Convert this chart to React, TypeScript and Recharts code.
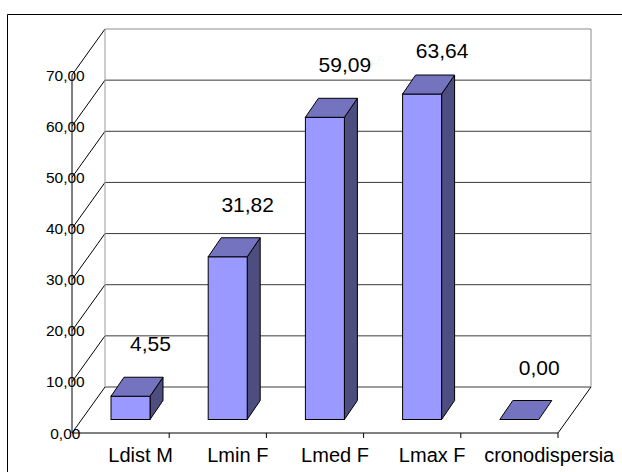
import { BarChart, Bar, XAxis, YAxis, CartesianGrid, LabelList } from "recharts"

const categories = ["Ldist M", "Lmin F", "Lmed F", "Lmax F", "cronodispersia"]
const values = [4.55, 31.82, 59.09, 63.64, 0.0]
const yTicks = [0, 10, 20, 30, 40, 50, 60, 70]

const data = categories.map((name, i) => ({ name, value: values[i] }))

// plot area = the plane the bar fronts stand on
const W = 622
const H = 472
const PLOT_LEFT = 82
const PLOT_RIGHT = 568
const PLOT_TOP = 61.5
const PLOT_BOTTOM = 419.5
const BAND = (PLOT_RIGHT - PLOT_LEFT) / categories.length

// oblique projection offsets of the other planes relative to the bar plane
const BACK = { dx: 23, dy: -32.5 }
const FRONT = { dx: -10, dy: 13.5 }
// depth of a single box
const BOX = { dx: 13, dy: 19 }

const FONT = '"Liberation Sans", Arial, sans-serif'
const LABEL_MIN_Y = 58

const fmt = (v: number) => v.toFixed(2).replace(".", ",")

function GridLine(props: any) {
  const { y1, index } = props
  const yb = y1 + BACK.dy
  const xl = PLOT_LEFT + BACK.dx
  const xr = PLOT_RIGHT + BACK.dx
  const isTop = Math.abs(y1 - PLOT_TOP) < 0.5
  return (
    <g key={`grid-${index}`}>
      <line x1={xl} y1={yb} x2={xr} y2={yb} stroke={isTop ? "#8c8c8c" : "#3a3a3a"} strokeWidth={1} />
      <line
        x1={xl}
        y1={yb}
        x2={PLOT_LEFT + FRONT.dx}
        y2={y1 + FRONT.dy}
        stroke="#000"
        strokeWidth={1}
      />
    </g>
  )
}

function Box(props: any) {
  const { x, y, width, height } = props
  const { dx, dy } = BOX
  const top = `${x},${y} ${x + dx},${y - dy} ${x + width + dx},${y - dy} ${x + width},${y}`
  const side = `${x + width},${y} ${x + width + dx},${y - dy} ${x + width + dx},${y + height - dy} ${x + width},${y + height}`
  return (
    <g>
      {height > 0.5 && <polygon points={side} fill="#4d4d80" stroke="#000" strokeWidth={1} />}
      {height > 0.5 && <rect x={x} y={y} width={width} height={height} fill="#9999ff" stroke="#000" strokeWidth={1} />}
      <polygon points={top} fill="#7373c0" stroke="#000" strokeWidth={1} />
    </g>
  )
}

function ValueLabel(props: any) {
  const { x, y, width, value } = props
  const ly = Math.max(y - 45, LABEL_MIN_Y)
  return (
    <text x={x + width / 2 + 20} y={ly} textAnchor="middle" fontFamily={FONT} fontSize={21} fill="#000">
      {fmt(Number(value))}
    </text>
  )
}

function YTick(props: any) {
  const { y, payload } = props
  return (
    <text
      x={PLOT_LEFT + FRONT.dx - 6.7}
      y={y + FRONT.dy + 5.5}
      textAnchor="middle"
      fontFamily={FONT}
      fontSize={15.5}
      fill="#000"
    >
      {fmt(payload.value)}
    </text>
  )
}

const estWidth = (s: string) => s.length * 10

function XTick(props: any) {
  const { x, index, payload } = props
  const axisY = PLOT_BOTTOM + FRONT.dy
  const boundary = x + FRONT.dx + BAND / 2
  let cx = x + 10
  if (index > 0) {
    // keep long names clear of the previous label
    const prevEnd = cx - BAND + estWidth(categories[index - 1]) / 2
    cx = Math.max(cx, prevEnd + 17 + estWidth(payload.value) / 2)
  }
  return (
    <g>
      <line x1={boundary} y1={axisY} x2={boundary} y2={axisY + 5} stroke="#000" strokeWidth={1} />
      <text x={cx} y={462} textAnchor="middle" fontFamily={FONT} fontSize={20} fill="#000">
        {payload.value}
      </text>
    </g>
  )
}

function Frame() {
  const bl = PLOT_LEFT + BACK.dx
  const br = PLOT_RIGHT + BACK.dx
  const bt = PLOT_TOP + BACK.dy
  const bb = PLOT_BOTTOM + BACK.dy
  const fl = PLOT_LEFT + FRONT.dx
  const fr = PLOT_RIGHT + FRONT.dx
  const fb = PLOT_BOTTOM + FRONT.dy
  const ft = PLOT_TOP + FRONT.dy
  return (
    <g>
      <path d={`M7.5 ${H} V14.5 H${W}`} fill="none" stroke="#000" strokeWidth={1} />
      <line x1={bl} y1={bt} x2={bl} y2={bb} stroke="#9a9a9a" strokeWidth={1} />
      <line x1={br} y1={bt} x2={br} y2={bb} stroke="#8c8c8c" strokeWidth={1} />
      <line x1={br} y1={bb} x2={fr} y2={fb} stroke="#000" strokeWidth={1} />
      <line x1={fl} y1={fb} x2={fr} y2={fb} stroke="#000" strokeWidth={1} />
      <line x1={fl} y1={fb} x2={fl} y2={ft} stroke="#000" strokeWidth={1} />
    </g>
  )
}

export default function App() {
  return (
    <div style={{ position: "absolute", left: 0, top: 0, width: W, height: H, background: "#fff" }}>
      <BarChart
        width={W}
        height={H}
        data={data}
        margin={{ top: PLOT_TOP, right: W - PLOT_RIGHT, bottom: H - PLOT_BOTTOM - 30, left: PLOT_LEFT - 20 }}
      >
        <Frame />
        <CartesianGrid vertical={false} horizontal={(p: any) => <GridLine {...p} />} />
        <XAxis dataKey="name" height={30} axisLine={false} tickLine={false} interval={0} tick={(p: any) => <XTick {...p} />} />
        <YAxis
          width={20}
          domain={[0, 70]}
          ticks={yTicks}
          interval={0}
          axisLine={false}
          tickLine={false}
          tick={(p: any) => <YTick {...p} />}
        />
        <Bar dataKey="value" barSize={39} shape={(p: any) => <Box {...p} />} isAnimationActive={false}>
          <LabelList dataKey="value" content={(p: any) => <ValueLabel {...p} />} />
        </Bar>
      </BarChart>
    </div>
  )
}
